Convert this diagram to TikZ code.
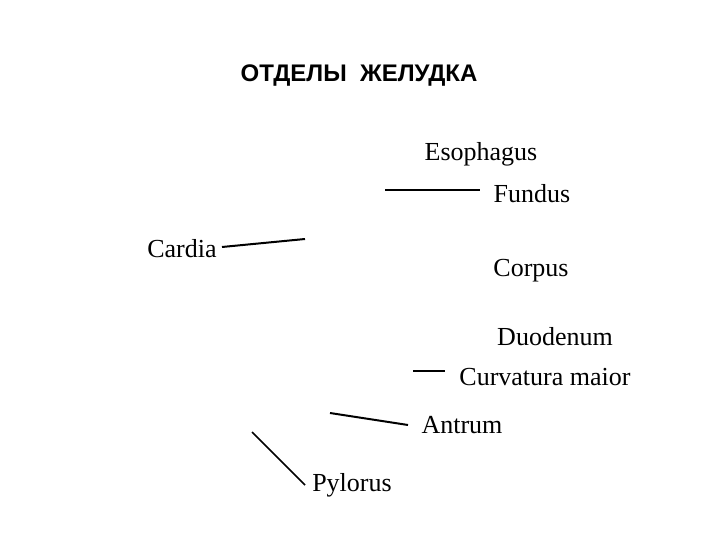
\documentclass[tikz,border=0pt]{standalone}
\usepackage{fontspec}
\setmainfont{Liberation Serif}
\newfontfamily\titlefont{Liberation Sans}
\begin{document}
\begin{tikzpicture}[x=1pt,y=-1pt,
 lbl/.style={font=\fontsize{26}{30}\selectfont, inner sep=1pt},
 ln/.style={line width=2pt}]
\useasboundingbox (0,0) rectangle (720,540);
\node[font=\titlefont\bfseries\fontsize{24}{28}\selectfont] (t) at (359,76) {ОТДЕЛЫ\ \ ЖЕЛУДКА};
\node[lbl] (eso) at (481,154) {Esophagus};
\node[lbl] (fun) at (532,194) {Fundus};
\node[lbl] (car) at (182,249) {Cardia};
\node[lbl] (cor) at (531,271) {Corpus};
\node[lbl] (duo) at (555,337) {Duodenum};
\node[lbl] (cur) at (545,377) {Curvatura maior};
\node[lbl] (ant) at (462,425) {Antrum};
\node[lbl] (pyl) at (352,485) {Pylorus};
\coordinate (f1) at (385,190);
\coordinate (f2) at (480,190);
\coordinate (c1) at (305,239);
\coordinate (cv1) at (413,371);
\coordinate (a1) at (330,413);
\coordinate (p1) at (252,432);
\draw[line width=1.2pt] (f1) -- (f2);
\draw[ln] (222,247) -- (c1);
\draw[line width=1.2pt] (cv1) -- (445,371);
\draw[ln] (a1) -- (408,425);
\draw[line width=1.5pt] (p1) -- (305,485);
\end{tikzpicture}
\end{document}
